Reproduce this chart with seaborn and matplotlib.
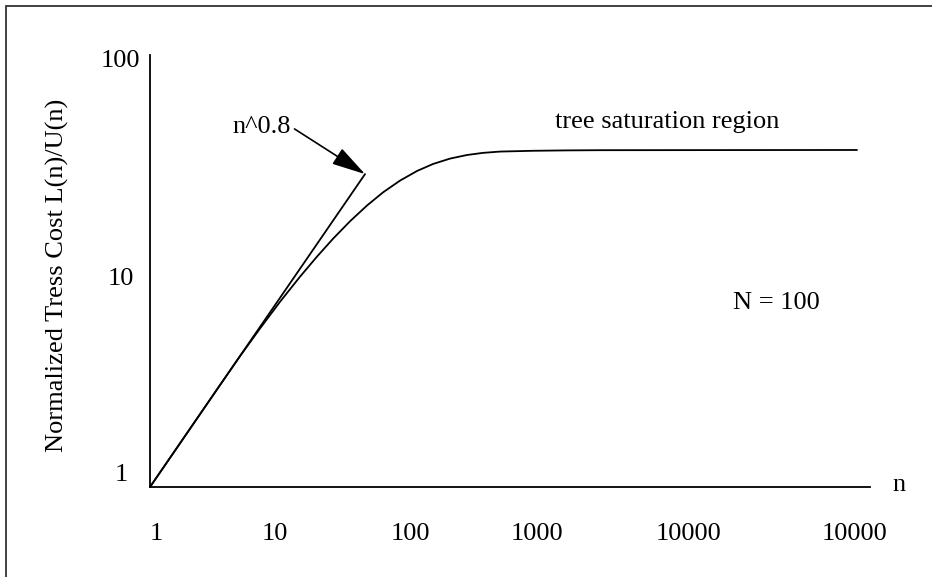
# tree_cost.py
'''Normalized tree cost against n, log-log sketch with saturation region'''

import matplotlib
matplotlib.use('Agg')
import matplotlib.pyplot as plt
import matplotlib.patches as patches
import numpy as np
import pandas as pd
import seaborn as sns

# values
curve_n = [1, 3.456, 4.924, 7.017, 10.0, 14.25, 19.26, 25.57, 34.56, 46.70,
           61.99, 83.79, 113.2, 150.3, 203.1, 274.5, 364.4, 492.4, 883.6,
           1585, 2894, 274500]
curve_cost = [1, 2.966, 4.033, 5.418, 7.201, 9.410, 11.66, 14.10, 16.99,
              20.10, 23.12, 26.21, 29.04, 31.29, 33.14, 34.44, 35.23, 35.72,
              36.02, 36.17, 36.25, 36.33]
power_n = [1, 45.1]
power_cost = [1, 28.1]
x_tick_labels = ['1', '10', '100', '1000', '10000', '10000']
y_tick_labels = ['1', '10', '100']

curve = pd.DataFrame({'n': curve_n, 'cost': curve_cost})
power = pd.DataFrame({'n': power_n, 'cost': power_cost})

sns.set_style('white')
plt.rcParams['font.family'] = ['Liberation Serif', 'DejaVu Serif']
plt.rcParams['font.size'] = 19
for key in ['text.color', 'axes.labelcolor', 'xtick.color', 'ytick.color']:
    plt.rcParams[key] = 'black'

figure = plt.figure(figsize=(9.32, 5.77), dpi=100)
axes = figure.add_axes([150 / 932, 90 / 577, 720 / 932, 432 / 577])

sns.lineplot(data=curve, x='n', y='cost', color='black', linewidth=1.3,
             ax=axes, sort=False)
sns.lineplot(data=power, x='n', y='cost', color='black', linewidth=1.3,
             ax=axes, sort=False)

axes.set_xscale('log')
axes.set_yscale('log')
axes.set_xlim(1, 10 ** (720 / 130))
axes.set_ylim(1, 100)

# label spots as drawn in the sketch (not exact decades)
axes.set_xticks(10 ** np.array([0.046, 0.96, 2.0, 2.98, 4.14, 5.42]))
axes.set_xticklabels(x_tick_labels)
axes.set_yticks([1.17, 9.4, 96])
axes.set_yticklabels(y_tick_labels, ha='center')
axes.minorticks_off()
axes.tick_params(axis='x', length=0, pad=26)
axes.tick_params(axis='y', length=0, pad=21)
axes.set_xlabel('')
axes.set_ylabel('Normalized Tress Cost L(n)/U(n)')
axes.yaxis.set_label_coords(-0.112, 0.49)

for side in ['top', 'right']:
    axes.spines[side].set_visible(False)
for side in ['left', 'bottom']:
    axes.spines[side].set_color('black')
    axes.spines[side].set_linewidth(1.3)

# annotations
axes.annotate('n^0.8', xy=(power_n[1], power_cost[1]), xytext=(12.2, 46.5),
              ha='right', va='center',
              arrowprops=dict(arrowstyle='-|>,head_length=1.1,head_width=0.3',
                              color='black', lw=1.2, shrinkA=0, shrinkB=0,
                              relpos=(1.0, 0.5), mutation_scale=19))
axes.text(1304, 49, 'tree saturation region', ha='left', va='center')
axes.text(3.05e4, 7.1, 'N = 100', ha='left', va='center')
axes.text(1.031, 0.005, 'n', transform=axes.transAxes, ha='left',
          va='center', clip_on=False)

# outer frame running off the right and bottom edges
frame = patches.Rectangle((5.5 / 932, -0.1), 2, 1.1 - 6.5 / 577,
                          transform=figure.transFigure, fill=False,
                          edgecolor='#333333', linewidth=1.3)
figure.patches.append(frame)

figure.savefig('out.png', dpi=100)
